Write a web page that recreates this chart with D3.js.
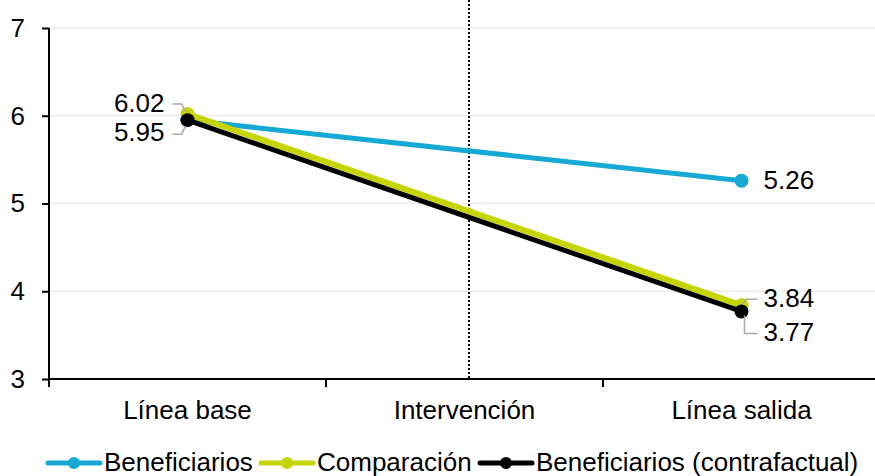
<!DOCTYPE html>
<html><head><meta charset="utf-8">
<script src="https://cdn.jsdelivr.net/npm/d3@7"></script>
<style>
html,body{margin:0;padding:0;background:#fff;}
text{font-family:"Liberation Sans",Arial,sans-serif;fill:#000;}
</style></head>
<body>
<svg id="c" width="875" height="476"></svg>
<script>
const categories = ["Línea base", "Intervención", "Línea salida"];
const seriesNames = ["Beneficiarios", "Comparación", "Beneficiarios (contrafactual)"];
const seriesColors = ["#16a9d4", "#c6d400", "#000000"];
const beneficiarios = [{cat: "Línea base", v: 5.95}, {cat: "Línea salida", v: 5.26}];
const comparacion = [{cat: "Línea base", v: 6.02}, {cat: "Línea salida", v: 3.84}];
const contrafactual = [{cat: "Línea base", v: 5.95}, {cat: "Línea salida", v: 3.77}];
const yTicks = [3, 4, 5, 6, 7];

(function () {
const svg = d3.select("#c");
const pL = 49, pR = 880, pT = 28, pB = 379;
const x = d3.scaleBand().domain(categories).range([pL, pR]).padding(0);
const y = d3.scaleLinear().domain([3, 7]).range([pB, pT]);
const cx = c => x(c) + x.bandwidth() / 2;

// gridlines
svg.append("g").selectAll("line").data(yTicks.filter(t => t > 3)).join("line")
  .attr("x1", pL).attr("x2", 875).attr("y1", d => y(d)).attr("y2", d => y(d))
  .attr("stroke", "#ececec").attr("stroke-width", 1.5);

// dotted intervention line
svg.append("line").attr("x1", cx("Intervención") + 4.5).attr("x2", cx("Intervención") + 4.5)
  .attr("y1", 0).attr("y2", pB).attr("stroke", "#000").attr("stroke-width", 2)
  .attr("stroke-dasharray", "2,2");

// y axis
const yAxis = svg.append("g").attr("transform", `translate(${pL},0)`)
  .call(d3.axisLeft(y).tickValues(yTicks).tickSize(7).tickPadding(17).tickFormat(d3.format("d")));
yAxis.select(".domain").remove();
yAxis.selectAll("line").attr("stroke", "#000").attr("stroke-width", 2);
yAxis.selectAll("text").attr("font-size", 26).attr("font-family", "Liberation Sans, Arial, sans-serif").attr("fill", "#000");
svg.append("line").attr("x1", pL).attr("x2", pL).attr("y1", pT).attr("y2", pB + 8)
  .attr("stroke", "#000").attr("stroke-width", 2);

// x axis
svg.append("line").attr("x1", pL).attr("x2", 875).attr("y1", pB).attr("y2", pB)
  .attr("stroke", "#000").attr("stroke-width", 2);
svg.append("g").selectAll("line").data(categories).join("line")
  .attr("x1", d => x(d)).attr("x2", d => x(d)).attr("y1", pB).attr("y2", pB + 8)
  .attr("stroke", "#000").attr("stroke-width", 2);
svg.append("g").selectAll("text").data(categories).join("text")
  .attr("x", d => cx(d)).attr("y", pB + 40).attr("text-anchor", "middle")
  .attr("font-size", 26).text(d => d);

// series
const allSeries = [beneficiarios, comparacion, contrafactual];
const line = d3.line().x(d => cx(d.cat)).y(d => y(d.v));
const widths = [5, 6, 5];
allSeries.forEach((s, i) => {
  svg.append("path").datum(s).attr("d", line).attr("fill", "none")
    .attr("stroke", seriesColors[i]).attr("stroke-width", widths[i]).attr("stroke-linejoin", "round");
  svg.append("g").selectAll("circle").data(s).join("circle")
    .attr("cx", d => cx(d.cat)).attr("cy", d => y(d.v)).attr("r", 7).attr("fill", seriesColors[i]);
});

// data labels
const fmt = d3.format(".2f");
const lab = svg.append("g").attr("font-size", 26);
const b0 = cx("Línea base");
lab.append("text").attr("x", b0 - 23).attr("y", y(comparacion[0].v) - 9).attr("text-anchor", "end")
  .attr("dominant-baseline", "middle").text(fmt(comparacion[0].v));
lab.append("text").attr("x", b0 - 23).attr("y", y(contrafactual[0].v) + 14).attr("text-anchor", "end")
  .attr("dominant-baseline", "middle").text(fmt(contrafactual[0].v));
const leader = d3.line();
svg.append("path").attr("d", leader([[b0 - 15, y(comparacion[0].v) - 10], [b0 - 6, y(comparacion[0].v) - 10], [b0 - 2, y(comparacion[0].v) - 2]]))
  .attr("fill", "none").attr("stroke", "#aaa").attr("stroke-width", 1.5);
svg.append("path").attr("d", leader([[b0 - 15, y(contrafactual[0].v) + 14], [b0 - 6, y(contrafactual[0].v) + 14], [b0 - 2, y(contrafactual[0].v) + 6]]))
  .attr("fill", "none").attr("stroke", "#aaa").attr("stroke-width", 1.5);
const e0 = cx("Línea salida");
lab.append("text").attr("x", e0 + 22).attr("y", y(beneficiarios[1].v) + 1)
  .attr("dominant-baseline", "middle").text(fmt(beneficiarios[1].v));
lab.append("text").attr("x", e0 + 22).attr("y", y(comparacion[1].v) - 5)
  .attr("dominant-baseline", "middle").text(fmt(comparacion[1].v));
lab.append("text").attr("x", e0 + 22).attr("y", y(contrafactual[1].v) + 23)
  .attr("dominant-baseline", "middle").text(fmt(contrafactual[1].v));
svg.append("path").attr("d", leader([[e0 + 1, y(comparacion[1].v) - 1], [e0 + 5, y(comparacion[1].v) - 6], [e0 + 16, y(comparacion[1].v) - 6]]))
  .attr("fill", "none").attr("stroke", "#aaa").attr("stroke-width", 1.5);
svg.append("path").attr("d", leader([[e0 + 3, y(contrafactual[1].v) + 4], [e0 + 3, y(contrafactual[1].v) + 22], [e0 + 16, y(contrafactual[1].v) + 22]]))
  .attr("fill", "none").attr("stroke", "#aaa").attr("stroke-width", 1.5);

// legend
const legY = 463;
const legX = [48, 261, 480];
const leg = svg.append("g");
seriesNames.forEach((n, i) => {
  const g = leg.append("g").attr("transform", `translate(${legX[i]},${legY})`);
  g.append("line").attr("x1", 0).attr("x2", 52).attr("y1", 0).attr("y2", 0)
    .attr("stroke", seriesColors[i]).attr("stroke-width", 5).attr("stroke-linecap", "round");
  g.append("circle").attr("cx", 26).attr("cy", 0).attr("r", 6).attr("fill", seriesColors[i]);
  g.append("text").attr("x", 56).attr("y", 1).attr("dominant-baseline", "middle")
    .attr("font-size", 26).text(n);
});
})();
</script>
</body></html>
